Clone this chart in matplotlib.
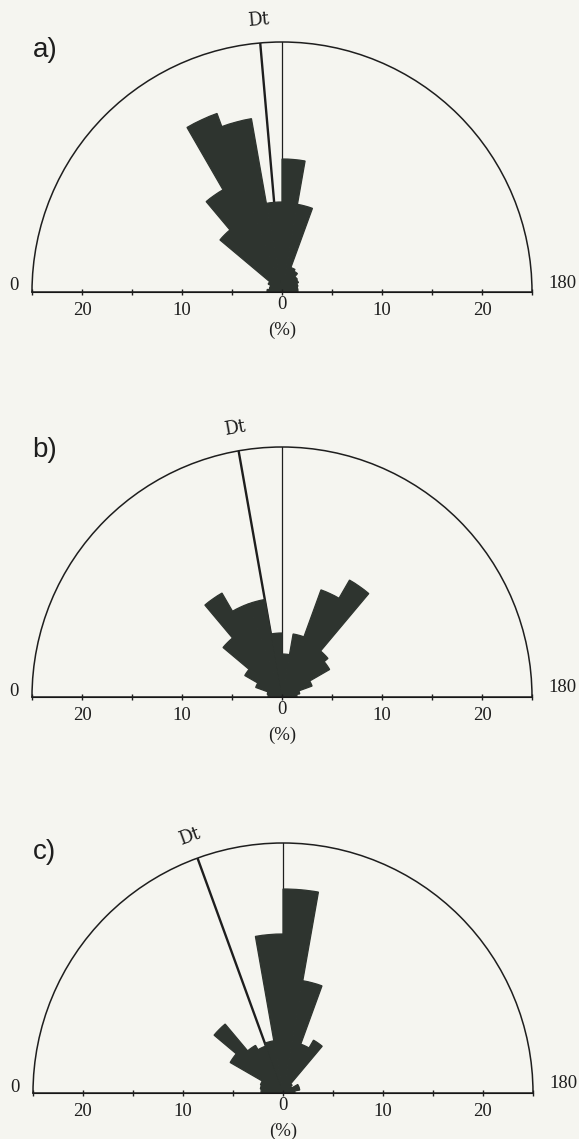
import numpy as np
import matplotlib.pyplot as plt

# azimuth classes (centre of each 10 degree class), 0 = left, 180 = right
azimuth = [5, 15, 25, 35, 45, 55, 65, 75, 85, 95, 105, 115, 125, 135, 145, 155, 165, 175]

# frequency (%) of each class
freq_a = [1.5, 1.3, 1.3, 1.6, 8.1, 11.8, 19.0, 17.6, 9.0, 13.3, 8.9, 2.6, 2.4, 2.0, 1.9, 1.7, 1.6, 1.6]
freq_b = [1.4, 1.5, 2.8, 4.3, 7.7, 12.0, 9.9, 9.9, 6.4, 4.3, 6.4, 11.4, 13.5, 6.0, 5.5, 3.2, 1.8, 1.5]
freq_c = [2.2, 2.3, 2.4, 6.1, 9.0, 5.5, 5.0, 5.3, 15.9, 20.4, 11.4, 5.2, 6.1, 1.2, 1.0, 1.7, 1.7, 1.2]

# Dt direction (degrees) for each panel
dt_a = 85
dt_b = 80
dt_c = 70

panel_labels = ['a)', 'b)', 'c)']
pct_ticks = [-20, -10, 0, 10, 20]
pct_labels = ['20', '10', '0', '10', '20']
pct_minor = [-25, -15, -5, 5, 15, 25]
r_max = 25

bg = '#f5f5f0'
petal = '#2e342f'
ink = '#1e1e1e'
serif = 'Liberation Serif'
fs = 13.5

W, H = 579, 1139
R = 250  # radius in pixels
centres = [(282, 292), (282, 697), (283, 1093)]

fig = plt.figure(figsize=(W / 100, H / 100), dpi=100, facecolor=bg)

panels = [(freq_a, dt_a), (freq_b, dt_b), (freq_c, dt_c)]
for i, (freq, dt) in enumerate(panels):
    cx, cy = centres[i]

    # polar axes: the half disc sits in the middle half of a square box
    ax = fig.add_axes([(cx - R) / W, 1 - (cy + R / 2) / H, 2 * R / W, 2 * R / H],
                      projection='polar')
    ax.set_facecolor('none')
    ax.set_theta_zero_location('W')
    ax.set_theta_direction(-1)
    ax.set_thetamin(0)
    ax.set_thetamax(180)
    ax.set_ylim(0, r_max)
    ax.grid(False)
    ax.set_xticks([])
    ax.set_yticks([])
    ax.spines['start'].set_visible(False)
    ax.spines['end'].set_visible(False)
    ax.spines['inner'].set_visible(False)
    ax.spines['polar'].set_color(ink)
    ax.spines['polar'].set_linewidth(1.1)

    ax.plot([np.pi / 2, np.pi / 2], [0, r_max], color=ink, lw=0.9, zorder=2)
    ax.plot([np.radians(dt), np.radians(dt)], [0, r_max], color=ink, lw=1.7, zorder=2)
    ax.bar(np.radians(azimuth), freq, width=np.radians(10), color=petal,
           edgecolor=petal, linewidth=0.9, zorder=3)
    ax.text(np.radians(dt), 27.3, 'Dt', rotation=90 - dt, ha='center', va='center',
            fontsize=13, family='DejaVu Serif', color=ink)

    # straight % scale along the base line
    bx = fig.add_axes([(cx - R) / W, 1 - cy / H, 2 * R / W, R / H])
    bx.set_xlim(-r_max, r_max)
    bx.set_ylim(0, r_max)
    bx.patch.set_visible(False)
    for s in ['top', 'left', 'right']:
        bx.spines[s].set_visible(False)
    bx.spines['bottom'].set_color(ink)
    bx.spines['bottom'].set_linewidth(1.1)
    bx.set_yticks([])
    bx.set_xticks(pct_ticks)
    bx.set_xticklabels(pct_labels, fontsize=fs, family=serif, color=ink)
    bx.set_xticks(pct_minor, minor=True)
    bx.tick_params(axis='x', which='both', direction='inout', length=5, width=1, color=ink, pad=5)
    bx.xaxis.get_major_ticks()[2].set_pad(0.3)
    bx.text(0, -3.8, '(%)', ha='center', va='center', fontsize=fs, family=serif, color=ink)
    bx.text(-26.8, 0.6, '0', ha='center', va='center', fontsize=fs, family=serif, color=ink)
    bx.text(28.0, 0.9, '180', ha='center', va='center', fontsize=fs, family=serif, color=ink)

    fig.text(45 / W, 1 - [50, 450, 852][i] / H, panel_labels[i], ha='center', va='center',
             fontsize=20, family='Liberation Sans', color=ink)

fig.savefig('out.png', dpi=100, facecolor=bg)
